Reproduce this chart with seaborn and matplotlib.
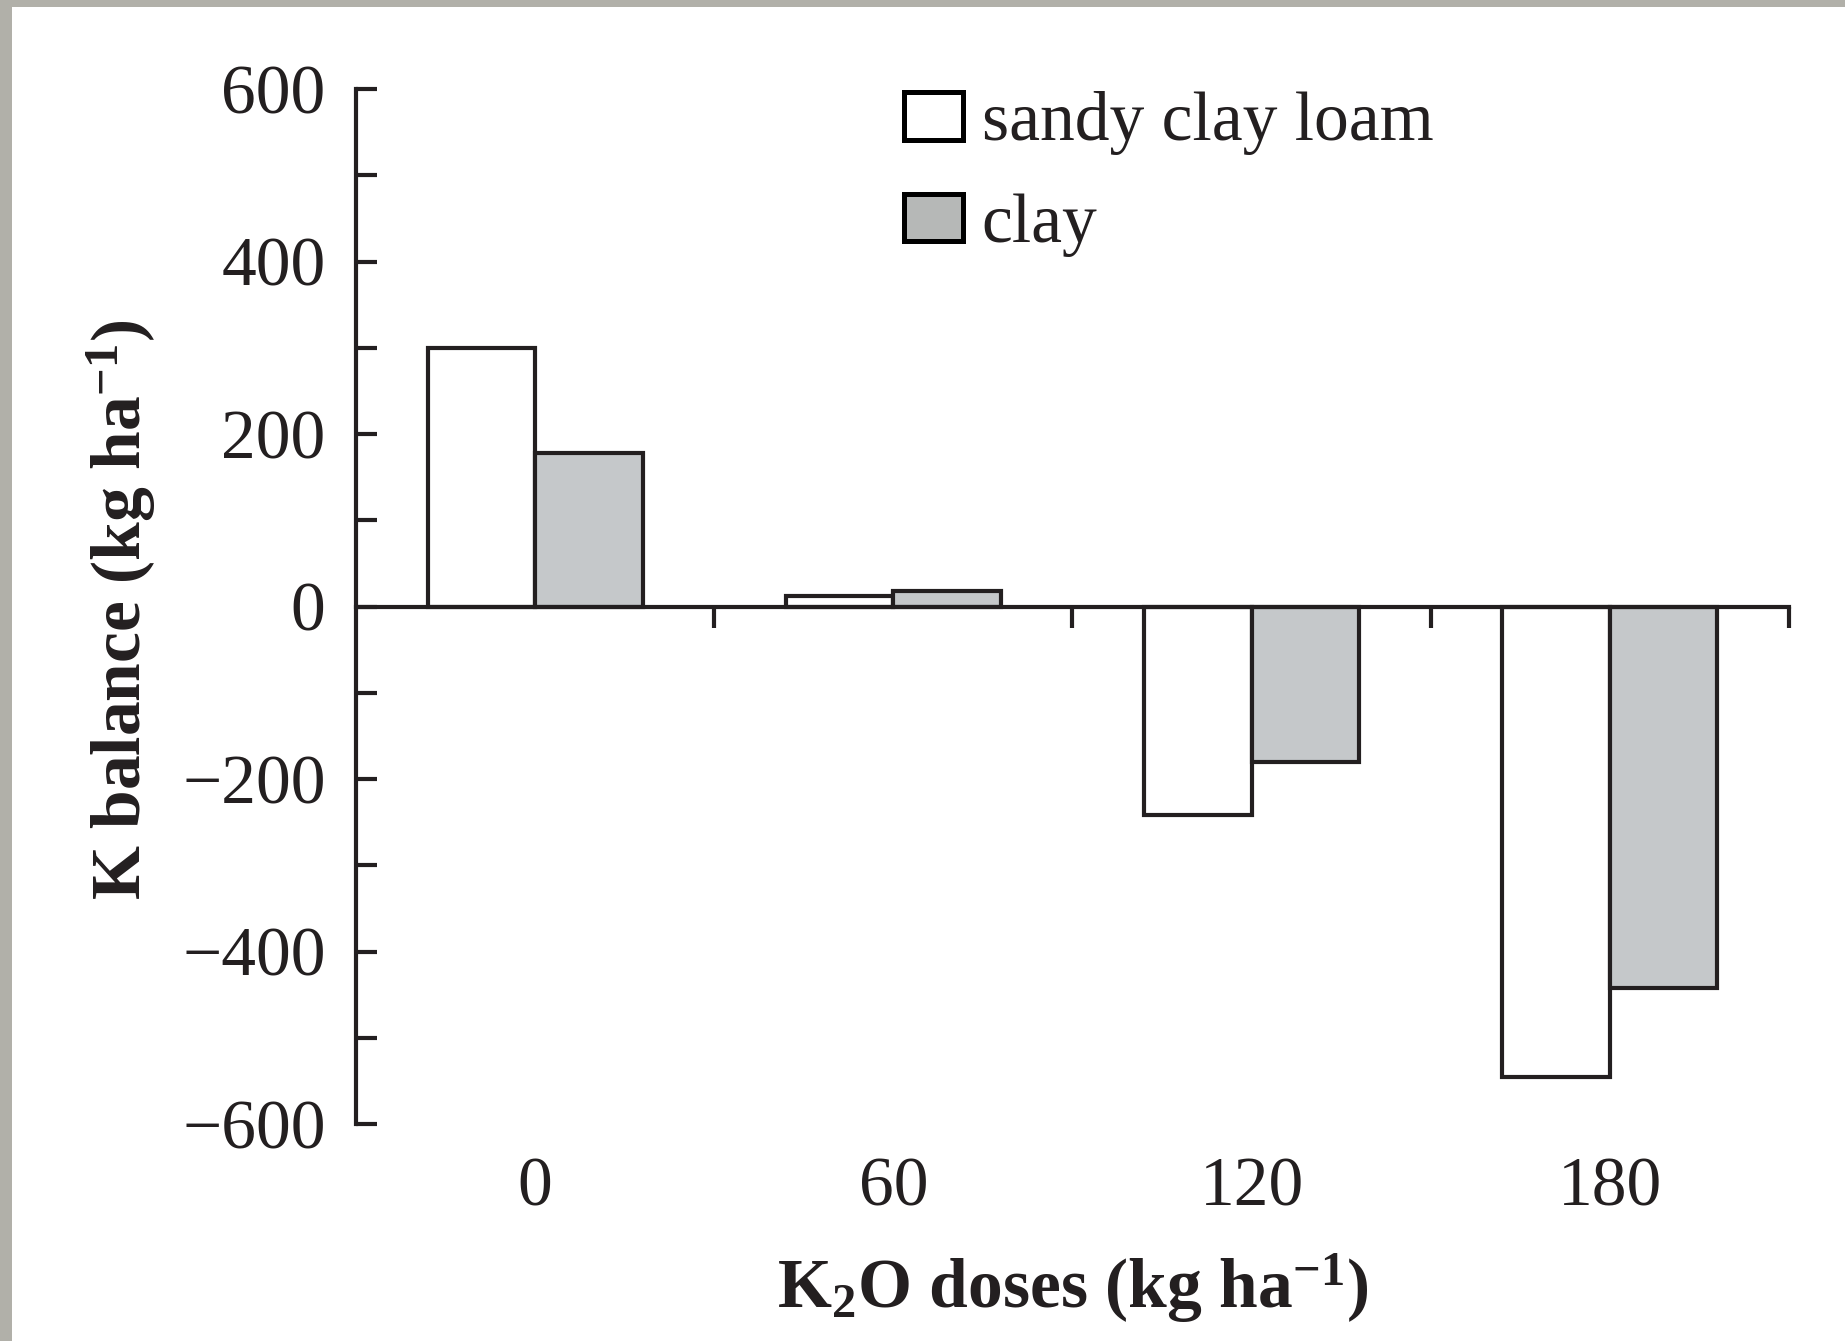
import numpy as np
import pandas as pd
import matplotlib
matplotlib.use("Agg")
import matplotlib.pyplot as plt
from matplotlib.patches import Patch, Rectangle
import seaborn as sns

# K2O doses (kg/ha) and resulting K balance (kg/ha) per soil type
doses = ["0", "60", "120", "180"]
sandy_clay_loam = [300, 12, -242, -545]
clay = [178, 18, -180, -442]
soils = ["sandy clay loam", "clay"]

df = pd.DataFrame({
    "dose": doses * 2,
    "balance": sandy_clay_loam + clay,
    "soil": [soils[0]] * len(doses) + [soils[1]] * len(doses),
})

sns.set_theme(style="white")
plt.rcParams["font.family"] = ["Liberation Serif", "DejaVu Serif"]
plt.rcParams["mathtext.fontset"] = "custom"
plt.rcParams["mathtext.rm"] = "Liberation Serif"
plt.rcParams["mathtext.bf"] = "Liberation Serif:bold"
plt.rcParams["mathtext.it"] = "Liberation Serif:italic"

INK = "#231f20"
GREY = "#c5c8ca"
FS = 50
LW = 3.0

fig = plt.figure(figsize=(18.45, 13.41), dpi=100)
fig.patch.set_facecolor("#b1b0a9")
# white page inside the stone-coloured frame
fig.add_artist(Rectangle((12 / 1845, 0), 1, 1 - 7 / 1341, transform=fig.transFigure,
                         facecolor="white", edgecolor="none", zorder=0))

ax = fig.add_axes([0.193, 0.1618, 0.9696 - 0.193, 0.9336 - 0.1618])
ax.set_facecolor("none")

sns.barplot(data=df, x="dose", y="balance", hue="soil", order=doses, hue_order=soils,
            palette=["white", GREY], saturation=1, width=0.6, gap=0,
            edgecolor=INK, linewidth=LW, legend=False, ax=ax, zorder=3)

ax.set_xlim(-0.5, 3.5)
ax.set_ylim(-600, 600)

# spines: left axis plus a baseline at zero
for s in ("top", "right"):
    ax.spines[s].set_visible(False)
ax.spines["left"].set_color(INK)
ax.spines["left"].set_linewidth(LW)
ax.spines["bottom"].set_position(("data", 0))
ax.spines["bottom"].set_color(INK)
ax.spines["bottom"].set_linewidth(LW)
ax.spines["bottom"].set_zorder(4)

# y ticks every 100, labelled every 200, pointing inward
ax.set_yticks(np.arange(-600, 601, 200))
ax.set_yticks(np.arange(-500, 501, 200), minor=True)
ax.tick_params(axis="y", which="both", left=True, direction="in", length=15, width=LW,
               color=INK, labelsize=FS, pad=22, labelcolor=INK)

# category boundaries marked on the zero line
ax.set_xticks([0.5, 1.5, 2.5, 3.5])
ax.set_xticklabels([])
ax.tick_params(axis="x", which="major", bottom=True, direction="out", length=15,
               width=LW, color=INK)
ax.set_xlabel("")
ax.set_ylabel("")

# dose labels along the bottom edge
sec = ax.secondary_xaxis("bottom")
sec.set_xticks(range(len(doses)))
sec.set_xticklabels(doses)
sec.tick_params(length=0, labelsize=FS, pad=24, labelcolor=INK)
sec.spines["bottom"].set_visible(False)

fig.text(0.5 * (0.193 + 0.9696), 1 - 1288 / 1341,
         r"K$_{\mathbf{2}}$O doses (kg ha$^{\mathbf{-1}}$)",
         ha="center", va="center", fontsize=FS, fontweight="bold", color=INK)
fig.text(121 / 1845, 0.545, r"K balance (kg ha$^{\mathbf{-1}}$)", rotation=90,
         ha="center", va="center", fontsize=FS, fontweight="bold", color=INK)

handles = [Patch(facecolor="white", edgecolor="black", linewidth=LW * 1.2),
           Patch(facecolor="#b6b8b7", edgecolor="black", linewidth=LW * 1.2)]
fig.legend(handles, soils, loc="upper left", bbox_to_anchor=(0.49, 0.932),
           frameon=False, fontsize=FS, handlelength=0.85, handleheight=0.68,
           handletextpad=0.27, labelspacing=0.55, borderpad=0, borderaxespad=0,
           labelcolor=INK)

fig.savefig("out.png", dpi=100, facecolor=fig.get_facecolor())
